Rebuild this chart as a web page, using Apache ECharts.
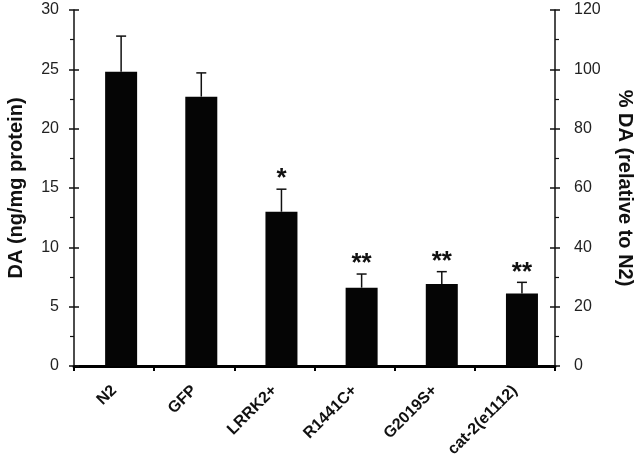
<!DOCTYPE html>
<html>
<head>
<meta charset="utf-8">
<script src="https://cdn.jsdelivr.net/npm/echarts@6/dist/echarts.min.js"></script>
<style>html,body{margin:0;padding:0;background:#fff}#chart{width:637px;height:459px}</style>
</head>
<body>
<div id="chart"></div>
<script>
// ---- data ----
var categories = ['N2', 'GFP', 'LRRK2+', 'R1441C+', 'G2019S+', 'cat-2(e1112)'];
var meanDA = [24.8, 22.7, 13.0, 6.6, 6.9, 6.1];
var errUpper = [3.0, 2.0, 1.9, 1.15, 1.05, 0.95];
var significance = ['', '', '*', '**', '**', '**'];
var leftTicks = [0, 5, 10, 15, 20, 25, 30];
var rightTicks = [0, 20, 40, 60, 80, 100, 120];

var FONT = "'Liberation Sans', Arial, sans-serif";
var BAR_W = 32;
var GAP_RATIO = -0.56;
var SHIFT = (BAR_W + BAR_W * GAP_RATIO) / 2;

var chart = echarts.init(document.getElementById('chart'), null, {renderer: 'canvas'});

function yAxisBase(pos, ticks, name, nameGap, nameRotate) {
  return {
    type: 'value', position: pos,
    min: ticks[0], max: ticks[ticks.length - 1], interval: ticks[1] - ticks[0],
    name: name, nameLocation: 'middle', nameGap: nameGap, nameRotate: nameRotate,
    nameTextStyle: {fontFamily: FONT, fontWeight: 'bold', fontSize: 20, color: '#111'},
    axisLine: {show: true, lineStyle: {color: '#111', width: 1.5}},
    axisTick: {show: true, length: 5, lineStyle: {color: '#111', width: 1.5}},
    minorTick: {show: true, splitNumber: 2, length: 4, lineStyle: {color: '#111', width: 1.2}},
    axisLabel: {fontFamily: FONT, fontSize: 16, color: '#222', margin: pos === 'left' ? 15 : 19},
    splitLine: {show: false}
  };
}
function innerTicks(pos, ticks) {
  return {
    type: 'value', position: pos,
    min: ticks[0], max: ticks[ticks.length - 1], interval: ticks[1] - ticks[0],
    axisLine: {show: false},
    axisTick: {show: true, inside: true, length: 5, lineStyle: {color: '#111', width: 1.5}},
    axisLabel: {show: false},
    splitLine: {show: false}
  };
}

var errData = categories.map(function (c, i) { return [i, meanDA[i], errUpper[i], significance[i]]; });

chart.setOption({
  animation: false,
  backgroundColor: '#fff',
  grid: {left: 74, right: 82, top: 10, bottom: 93, containLabel: false, outerBoundsMode: 'none'},
  xAxis: {
    type: 'category', data: categories,
    axisLine: {show: true, lineStyle: {color: '#000', width: 3}},
    axisTick: {show: true, length: 5, alignWithLabel: false, lineStyle: {color: '#000', width: 2}},
    axisLabel: {fontFamily: FONT, fontWeight: 'bold', fontSize: 16, color: '#111', rotate: 45, margin: 22, interval: 0}
  },
  yAxis: [
    yAxisBase('left', leftTicks, 'DA (ng/mg protein)', 48, 90),
    yAxisBase('right', rightTicks, '% DA (relative to N2)', 60, -90),
    innerTicks('left', leftTicks),
    innerTicks('right', rightTicks)
  ],
  series: [
    {type: 'bar', yAxisIndex: 0, barWidth: BAR_W, barGap: (GAP_RATIO * 100) + '%', data: categories.map(function () { return '-'; })},
    {type: 'bar', yAxisIndex: 0, barWidth: BAR_W, itemStyle: {color: '#050505'}, data: meanDA},
    {
      type: 'custom', yAxisIndex: 0, data: errData, z: 5,
      renderItem: function (params, api) {
        var i = api.value(0), m = api.value(1), e = api.value(2);
        var s = significance[i];
        var base = api.coord([i, m]);
        var top = api.coord([i, m + e]);
        var x = base[0] + SHIFT;
        var st = {stroke: '#111', lineWidth: 1.5};
        var children = [
          {type: 'line', shape: {x1: x, y1: base[1], x2: x, y2: top[1]}, style: st},
          {type: 'line', shape: {x1: x - 5, y1: top[1], x2: x + 5, y2: top[1]}, style: st}
        ];
        if (s) {
          children.push({type: 'text', style: {text: s, x: x, y: top[1] - 10, align: 'center', verticalAlign: 'middle',
            font: 'bold 26px ' + FONT, fill: '#111'}});
        }
        return {type: 'group', children: children};
      }
    }
  ]
});
</script>
</body>
</html>
